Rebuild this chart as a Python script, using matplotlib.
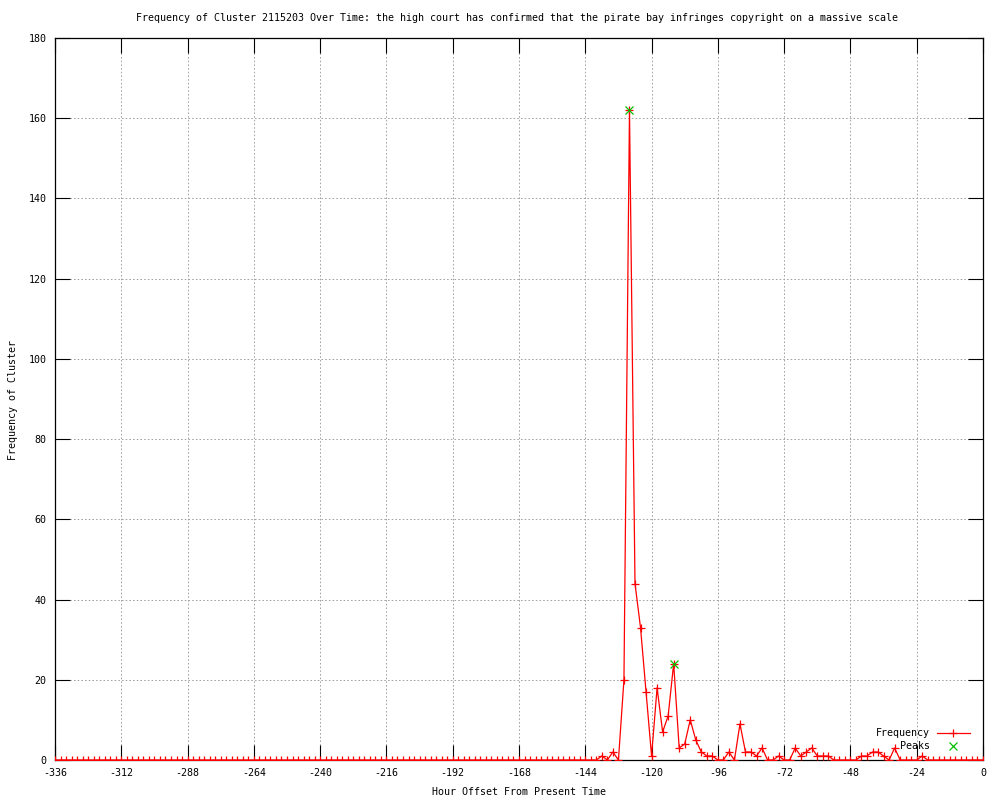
#!/usr/bin/env python3
"""Cluster frequency over time, gnuplot-style line chart."""

import matplotlib

matplotlib.use("Agg")
import matplotlib.pyplot as plt
from matplotlib.lines import Line2D

TITLE = ("Frequency of Cluster 2115203 Over Time: the high court has confirmed "
         "that the pirate bay infringes copyright on a massive scale")

# hour offsets, one sample every two hours
HOURS = list(range(-336, 1, 2))

# -336 .. -140
FREQ_QUIET = [
    0, 0, 0, 0, 0, 0, 0, 0, 0, 0, 0, 0, 0, 0, 0, 0, 0, 0, 0, 0,
    0, 0, 0, 0, 0, 0, 0, 0, 0, 0, 0, 0, 0, 0, 0, 0, 0, 0, 0, 0,
    0, 0, 0, 0, 0, 0, 0, 0, 0, 0, 0, 0, 0, 0, 0, 0, 0, 0, 0, 0,
    0, 0, 0, 0, 0, 0, 0, 0, 0, 0, 0, 0, 0, 0, 0, 0, 0, 0, 0, 0,
    0, 0, 0, 0, 0, 0, 0, 0, 0, 0, 0, 0, 0, 0, 0, 0, 0, 0, 0,
]
# -138 .. 0
FREQ_ACTIVE = [
    1, 0, 2, 0, 20, 162, 44, 33, 17, 1,
    18, 7, 11, 24, 3, 4, 10, 5, 2, 1,
    1, 0, 0, 2, 0, 9, 2, 2, 1, 3,
    0, 0, 1, 0, 0, 3, 1, 2, 3, 1,
    1, 1, 0, 0, 0, 0, 0, 1, 1, 2,
    2, 1, 0, 3, 0, 0, 0, 0, 1, 0,
    0, 0, 0, 0, 0, 0, 0, 0, 0, 0,
]
FREQUENCY = FREQ_QUIET + FREQ_ACTIVE

PEAK_HOURS = [-128, -112]
PEAK_VALUES = [162, 24]

X_TICKS = list(range(-336, 1, 24))
Y_TICKS = list(range(0, 181, 20))

FONT = "DejaVu Sans Mono"
FS = 7.2
RED = "#ff0000"
GREEN = "#00c000"


def main() -> None:
    plt.rcParams.update({"font.family": FONT, "font.size": FS,
                         "axes.unicode_minus": False})
    fig = plt.figure(figsize=(10, 8), dpi=100)
    ax = fig.add_axes([0.055, 0.05, 0.928, 0.9025])

    ax.plot(HOURS, FREQUENCY, color=RED, linewidth=0.9, marker="+",
            markersize=6, markeredgewidth=0.9, zorder=3)
    ax.plot(PEAK_HOURS, PEAK_VALUES, linestyle="none", color=GREEN, marker="x",
            markersize=5.5, markeredgewidth=0.9, zorder=4)

    ax.set_xlim(-336, 0)
    ax.set_ylim(0, 180)
    ax.set_xticks(X_TICKS)
    ax.set_yticks(Y_TICKS)
    ax.tick_params(direction="in", length=11, width=0.8, color="black",
                   top=True, right=True, labelsize=FS, pad=6)
    ax.grid(True, color="#a0a0a0", linewidth=0.7, linestyle=(0, (1.6, 2.2)))
    for spine in ax.spines.values():
        spine.set_linewidth(0.9)

    fig.text(0.517, 1 - 18 / 800, TITLE, ha="center", va="center", fontsize=FS)
    fig.text(0.519, 1 - 792 / 800, "Hour Offset From Present Time",
             ha="center", va="center", fontsize=FS)
    fig.text(0.013, 0.5, "Frequency of Cluster", rotation=90,
             ha="center", va="center", fontsize=FS)

    # gnuplot style key: labels right-aligned, samples to the right
    tr = ax.transAxes
    ax.text(0.9429, 0.0374, "Frequency", transform=tr, ha="right",
            va="center", fontsize=FS)
    ax.text(0.9429, 0.0194, "Peaks", transform=tr, ha="right",
            va="center", fontsize=FS)
    ax.add_line(Line2D([0.9504, 0.986], [0.0374, 0.0374], transform=tr,
                       color=RED, linewidth=0.9))
    ax.add_line(Line2D([0.9677], [0.0374], transform=tr, color=RED,
                       marker="+", markersize=6, markeredgewidth=0.9))
    ax.add_line(Line2D([0.9677], [0.0194], transform=tr, color=GREEN,
                       marker="x", linestyle="none", markersize=5.5,
                       markeredgewidth=0.9))

    fig.savefig("out.png", dpi=100)
    plt.close(fig)


if __name__ == "__main__":
    main()
